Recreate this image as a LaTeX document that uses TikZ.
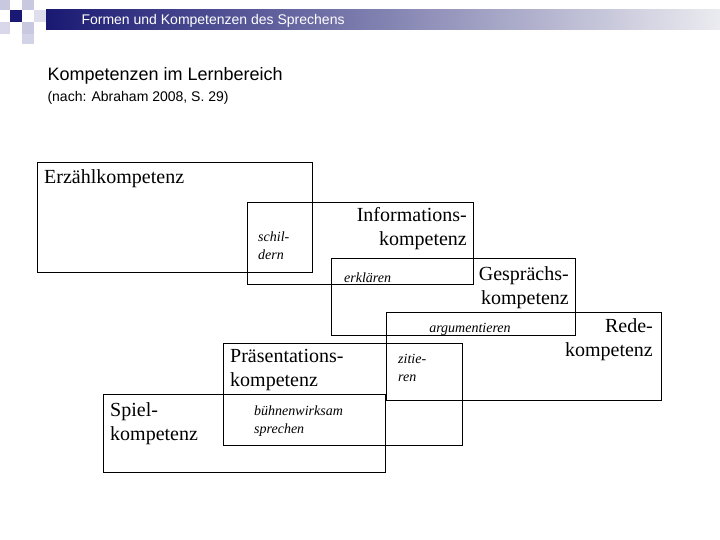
\documentclass[tikz,border=0pt]{standalone}
\usepackage{fontspec}
\setmainfont{Liberation Serif}
\newfontfamily\headfont{Liberation Sans}
\usetikzlibrary{positioning}
\definecolor{navy}{RGB}{25,25,115}
\definecolor{lav}{RGB}{200,200,225}
\definecolor{bannerend}{RGB}{235,235,240}
\begin{document}
\begin{tikzpicture}[x=1pt,y=-1pt,
    box/.style={draw,semithick,anchor=north west,inner sep=0pt},
    title/.style={font=\fontsize{20}{24}\selectfont,inner sep=0pt,align=left},
    verb/.style={font=\fontsize{14}{18}\selectfont\itshape,inner sep=0pt,align=left}]
  \useasboundingbox (0,0) rectangle (720,540);
  % header
  \fill[lav] (0,0) rectangle (10,10);
  \fill[lav] (22,0) rectangle (34,10);
  \fill[lav!70] (0,22) rectangle (10,34);
  \fill[lav] (22,22) rectangle (34,34);
  \fill[lav!60] (34,10) rectangle (46,22);
  \fill[lav!80] (22,34) rectangle (34,44);
  \fill[navy] (10,10) rectangle (22,22);
  \shade[left color=navy,right color=bannerend] (46,10) rectangle (720,30);
  \node[anchor=west,text=white,font=\headfont\fontsize{14}{16}\selectfont] (head) at (78,21) {Formen und Kompetenzen des Sprechens};
  \node[anchor=west,font=\headfont\fontsize{18}{20}\selectfont] (ttl) at (44,76) {Kompetenzen im Lernbereich};
  \node[anchor=west,font=\headfont\fontsize{14}{16}\selectfont] (sub) at (44,98) {(nach: Abraham 2008, S. 29)};

  % boxes
  \node[box,minimum width=275,minimum height=110] (erz) at (37,162) {};
  \node[box,minimum width=226,minimum height=82] (inf) at (247,202) {};
  \node[box,minimum width=244,minimum height=77] (ges) at (331,258) {};
  \node[box,minimum width=275,minimum height=88] (red) at (386,312) {};
  \node[box,minimum width=239,minimum height=102] (pra) at (223,343) {};
  \node[box,minimum width=282,minimum height=78] (spi) at (103,394) {};

  % labels
  \node[title,anchor=west] (erzt) at (44,179) {Erzählkompetenz};
  \node[title,anchor=north east,align=right] (inft) at (467,207) {Informations-\\kompetenz};
  \node[title,anchor=north east,align=right] (gest) at (569,266) {Gesprächs-\\kompetenz};
  \node[title,anchor=north east,align=right] (redt) at (653,318) {Rede-\\kompetenz};
  \node[title,anchor=north west] (prat) at (230,349) {Präsentations-\\kompetenz};
  \node[title,anchor=north west] (spit) at (110,402) {Spiel-\\kompetenz};

  \node[verb,anchor=north west] (schil) at (258,232) {schil-\\dern};
  \node[verb,anchor=west] (erkl) at (344,278) {erklären};
  \node[verb] (arg) at (470,329) {argumentieren};
  \node[verb,anchor=north west] (zit) at (398,354) {zitie-\\ren};
  \node[verb,anchor=north west] (bue) at (254,406) {bühnenwirksam\\sprechen};
\end{tikzpicture}
\end{document}
